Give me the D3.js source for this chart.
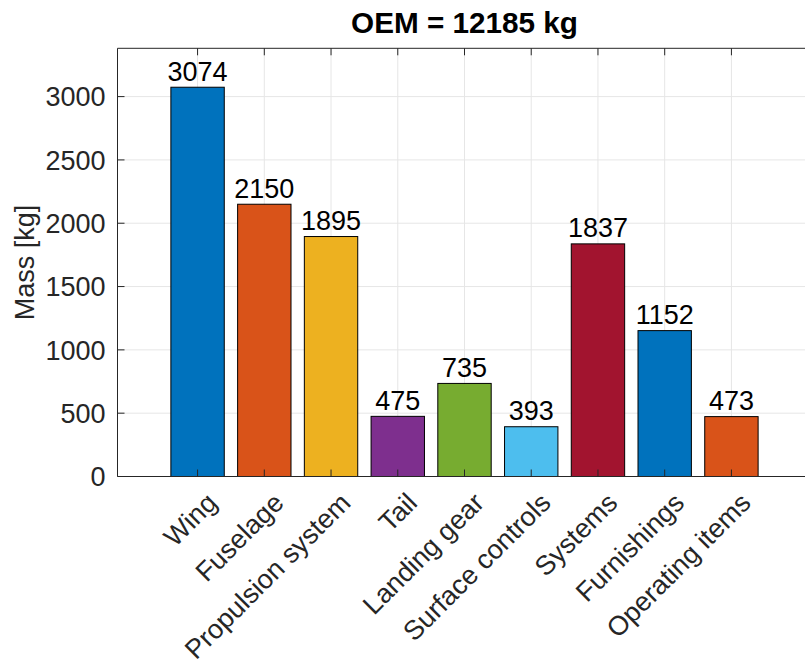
<!DOCTYPE html>
<html>
<head>
<meta charset="utf-8">
<script src="https://cdn.jsdelivr.net/npm/d3@7"></script>
<style>
  html, body { margin: 0; padding: 0; background: #fff; }
  svg { display: block; }
  text { font-family: "Liberation Sans", Arial, Helvetica, sans-serif; }
</style>
</head>
<body>
<svg id="chart" width="805" height="664"></svg>
<script>
// Mass breakdown by component group
const categories = ["Wing", "Fuselage", "Propulsion system", "Tail", "Landing gear",
                    "Surface controls", "Systems", "Furnishings", "Operating items"];
const masses = [3074, 2150, 1895, 475, 735, 393, 1837, 1152, 473];
const barColors = ["#0072BD", "#D95319", "#EDB120", "#7E2F8E", "#77AC30",
                   "#4DBEEE", "#A2142F", "#0072BD", "#D95319"];
const yTicks = [0, 500, 1000, 1500, 2000, 2500, 3000];
const titleText = "OEM = 12185 kg";
const yLabel = "Mass [kg]";

const svg = d3.select("#chart");
const plotLeft = 117.5, plotRight = 811.5, plotTop = 48.3, plotBottom = 476.5;
const fontSize = 27;
const axisColor = "#262626";
const gridColor = "#e6e6e6";

const idx = d3.range(1, categories.length + 1);
const x = d3.scaleLinear().domain([-0.2, 10.2]).range([plotLeft, plotRight]);
const y = d3.scaleLinear().domain([0, 1.1 * d3.max(masses)]).range([plotBottom, plotTop]);
const barW = 0.8 * (x(2) - x(1));

// grid
const grid = svg.append("g");
grid.selectAll("line.gy").data(yTicks).join("line")
  .attr("x1", plotLeft).attr("x2", plotRight)
  .attr("y1", d => y(d)).attr("y2", d => y(d))
  .attr("stroke", gridColor).attr("stroke-width", 1);
grid.selectAll("line.gx").data(idx).join("line")
  .attr("x1", d => x(d)).attr("x2", d => x(d))
  .attr("y1", plotTop).attr("y2", plotBottom)
  .attr("stroke", gridColor).attr("stroke-width", 1);

// bars
svg.append("g").selectAll("rect").data(masses).join("rect")
  .attr("x", (d, i) => x(i + 1) - barW / 2)
  .attr("width", barW)
  .attr("y", d => y(d))
  .attr("height", d => plotBottom - y(d))
  .attr("fill", (d, i) => barColors[i])
  .attr("stroke", "#000").attr("stroke-width", 1);

// value labels
svg.append("g").selectAll("text").data(masses).join("text")
  .attr("x", (d, i) => x(i + 1))
  .attr("y", d => y(d) - 6.5)
  .attr("text-anchor", "middle")
  .attr("font-size", fontSize)
  .attr("fill", "#000")
  .text(d => d);

// axes lines and inward ticks
const ax = svg.append("g").attr("stroke", axisColor).attr("stroke-width", 1).attr("fill", "none");
ax.append("line").attr("x1", plotLeft).attr("x2", plotRight).attr("y1", plotBottom).attr("y2", plotBottom);
ax.append("line").attr("x1", plotLeft).attr("x2", plotRight).attr("y1", plotTop).attr("y2", plotTop);
ax.append("line").attr("x1", plotLeft).attr("x2", plotLeft).attr("y1", plotTop).attr("y2", plotBottom);
ax.selectAll("line.ty").data(yTicks).join("line")
  .attr("x1", plotLeft).attr("x2", plotLeft + 7)
  .attr("y1", d => y(d)).attr("y2", d => y(d));
ax.selectAll("line.tb").data(idx).join("line")
  .attr("x1", d => x(d)).attr("x2", d => x(d))
  .attr("y1", plotBottom).attr("y2", plotBottom - 7);
ax.selectAll("line.tt").data(idx).join("line")
  .attr("x1", d => x(d)).attr("x2", d => x(d))
  .attr("y1", plotTop).attr("y2", plotTop + 7);

// y tick labels
svg.append("g").selectAll("text").data(yTicks).join("text")
  .attr("x", plotLeft - 12)
  .attr("y", d => y(d))
  .attr("dy", "0.36em")
  .attr("text-anchor", "end")
  .attr("font-size", fontSize)
  .attr("fill", axisColor)
  .text(d => d);

// x tick labels, rotated
svg.append("g").selectAll("text").data(categories).join("text")
  .attr("transform", (d, i) => `translate(${x(i + 1) + 21},${plotBottom + 28}) rotate(-45)`)
  .attr("text-anchor", "end")
  .attr("font-size", fontSize)
  .attr("fill", axisColor)
  .text(d => d);

// y axis label
svg.append("text")
  .attr("transform", `translate(34,${(plotTop + plotBottom) / 2}) rotate(-90)`)
  .attr("text-anchor", "middle")
  .attr("font-size", fontSize)
  .attr("fill", axisColor)
  .text(yLabel);

// title
svg.append("text")
  .attr("x", (plotLeft + plotRight) / 2)
  .attr("y", 33.3)
  .attr("text-anchor", "middle")
  .attr("font-size", fontSize * 1.1)
  .attr("font-weight", "bold")
  .attr("fill", "#000")
  .text(titleText);
</script>
</body>
</html>
